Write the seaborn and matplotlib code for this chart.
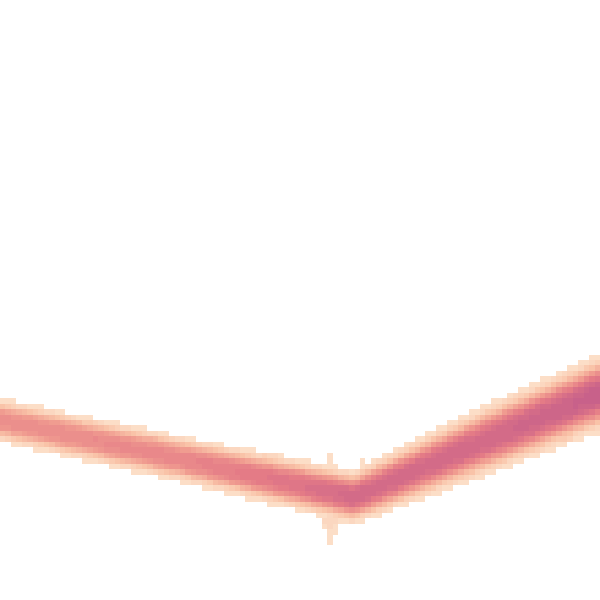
import numpy as np
import pandas as pd
import seaborn as sns
import matplotlib
matplotlib.use('Agg')
import matplotlib.pyplot as plt

# band (x, y in 0..1, y up)
knot_x = [0.0, 0.30, 0.59, 0.80, 1.0]
knot_center = [0.300, 0.235, 0.171, 0.262, 0.345]
knot_sd = [0.020, 0.021, 0.024, 0.031, 0.034]
knot_peak = [12, 13, 18, 18, 20]
nbins = 110

# loose cells outside the band (bin column, bin row from bottom, count)
spot_col = [59, 60, 61, 59, 60, 61, 60, 61, 60, 60,
            60, 60, 27, 28, 48, 49, 50, 66, 103, 104]
spot_row = [14, 14, 14, 13, 13, 13, 12, 12, 11, 10,
            25, 26, 29, 29, 26, 26, 26, 25, 29, 29]
spot_w = [2, 2, 2, 1, 2, 1, 1, 1, 1, 1,
          1, 1, 1, 1, 1, 1, 1, 1, 1, 1]

# colours, light to dark
shades = ['#fde4cf', '#f9c3a8', '#f09c90', '#e47b86', '#c8618a', '#a44c8c']

xs, ys, ws = [], [], []
for i in range(nbins):
    xc = (i + 0.5) / nbins
    c = np.interp(xc, knot_x, knot_center)
    sd = np.interp(xc, knot_x, knot_sd)
    pk = np.interp(xc, knot_x, knot_peak)
    for j in range(nbins):
        yc = (j + 0.5) / nbins
        w = round(pk * np.exp(-0.5 * np.abs((yc - c) / sd) ** 3))
        if w >= 1:
            xs.append(xc)
            ys.append(yc)
            ws.append(w)

for col, row, w in zip(spot_col, spot_row, spot_w):
    xs.append((col + 0.5) / nbins)
    ys.append((row + 0.5) / nbins)
    ws.append(w)

df = pd.DataFrame({'x': xs, 'y': ys, 'w': ws})
cmap = sns.blend_palette(shades, as_cmap=True)

fig = plt.figure(figsize=(6, 6), dpi=100)
ax = fig.add_axes([0, 0, 1, 1])
sns.histplot(data=df, x='x', y='y', weights='w', bins=nbins,
             binrange=((0, 1), (0, 1)), cmap=cmap, vmin=0, vmax=25, ax=ax)
ax.set_xlim(0, 1)
ax.set_ylim(0, 1)
ax.axis('off')
fig.savefig('out.png', dpi=100)
